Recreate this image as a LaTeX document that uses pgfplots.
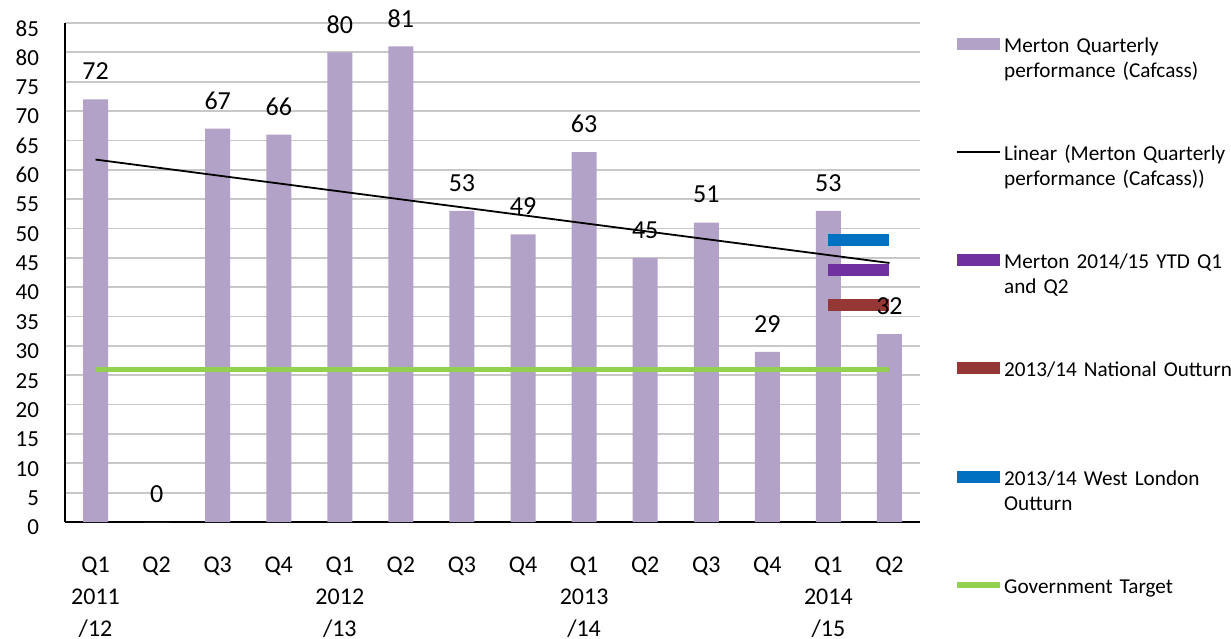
\documentclass[border=0pt]{standalone}
\usepackage{fontspec}
\setmainfont{Carlito}
\usepackage{pgfplots}
\pgfplotsset{compat=1.18}
\definecolor{barc}{HTML}{B3A2C7}
\definecolor{purp}{HTML}{7030A0}
\definecolor{brn}{HTML}{953735}
\definecolor{blu}{HTML}{0070C0}
\definecolor{grn}{HTML}{92D050}
\definecolor{gridc}{HTML}{C8C8C8}
\newcommand{\hs}{\rule{0pt}{9pt}}
\newcommand{\ds}{\rule[-4pt]{0pt}{0pt}}
\begin{document}
\begin{tikzpicture}
\path[use as bounding box] (-32.5pt,-58pt) rectangle (583pt,261pt);
\begin{axis}[
  at={(0,0)}, anchor=south west,
  scale only axis, width=427.5pt, height=249.5pt,
  xmin=-0.5, xmax=13.5, ymin=0, ymax=85,
  axis x line*=bottom, axis y line*=left,
  axis line style={black, line width=0.7pt},
  clip=false,
  ytick={0,5,...,85},
  ymajorgrids, grid style={gridc, line width=0.9pt},
  major tick length=0pt,
  xtick={0,...,13},
  xticklabels={{Q1\\2011\\/12},Q2,Q3,Q4,{Q1\\2012\\/13},Q2,Q3,Q4,{Q1\\2013\\/14},Q2,Q3,Q4,{Q1\\2014\\/15},Q2},
  xticklabel style={align=center, font=\fontsize{12}{15.8}\selectfont, anchor=north, inner sep=0pt, yshift=-17.5pt},
  yticklabel style={font=\fontsize{11.5}{14}\selectfont, anchor=east, inner sep=0pt, xshift=-12.8pt, yshift=-2.7pt},
  /pgf/number format/assume math mode=true,
  legend style={at={(1,1)}, anchor=north west, xshift=18pt, yshift=-5.4pt,
    draw=none, fill=none, inner sep=0pt, row sep=43.6pt, column sep=1.5pt,
    font=\fontsize{10.6}{12.5}\selectfont,
    nodes={inner sep=0pt},
    cells={anchor=base west, text width=116pt, align=left, inner sep=0pt}},
]
\addplot[ybar, bar width=12.5pt, bar shift=0pt, fill=barc, draw=none,
  nodes near coords={\pgfmathprintnumber[assume math mode=true]{\pgfplotspointmeta}},
  every node near coord/.append style={font=\fontsize{13}{15}\selectfont, anchor=center, yshift=14pt, black},
  legend image code/.code={\fill[barc, draw=none] (0pt,1.2pt) rectangle (21.5pt,7.2pt);}]
  coordinates {(0,72) (1,0) (2,67) (3,66) (4,80) (5,81) (6,53) (7,49) (8,63) (9,45) (10,51) (11,29) (12,53) (13,32)};
\addlegendentry{\hs Merton Quarterly\\performance (Cafcass)\ds}
\addplot[black, line width=0.9pt,
  legend image code/.code={\draw[black, line width=0.9pt] (0pt,4.2pt) -- (21.5pt,4.2pt);}]
  coordinates {(0,61.74) (13,44.12)};
\addlegendentry{\hs Linear (Merton Quarterly\\performance (Cafcass))\ds}
\addplot[purp, line width=6pt,
  legend image code/.code={\fill[purp, draw=none] (0pt,1.2pt) rectangle (21.5pt,7.2pt);}]
  coordinates {(12,43) (13,43)};
\addlegendentry{\hs Merton 2014/15 YTD Q1\\and Q2\ds}
\addplot[brn, line width=6pt,
  legend image code/.code={\fill[brn, draw=none] (0pt,1.2pt) rectangle (21.5pt,7.2pt);}]
  coordinates {(12,37) (13,37)};
\addlegendentry{\hs 2013/14 National Outturn\ds}
\addplot[blu, line width=6pt,
  legend image code/.code={\fill[blu, draw=none] (0pt,1.2pt) rectangle (21.5pt,7.2pt);}]
  coordinates {(12,48) (13,48)};
\addlegendentry{\hs 2013/14 West London\\Outturn\ds}
\addplot[grn, line width=2.8pt,
  legend image code/.code={\fill[grn, draw=none] (0pt,2.8pt) rectangle (21.5pt,5.6pt);}]
  coordinates {(0,26) (13,26)};
\addlegendentry{\hs Government Target\ds}
\end{axis}
\end{tikzpicture}
\end{document}
